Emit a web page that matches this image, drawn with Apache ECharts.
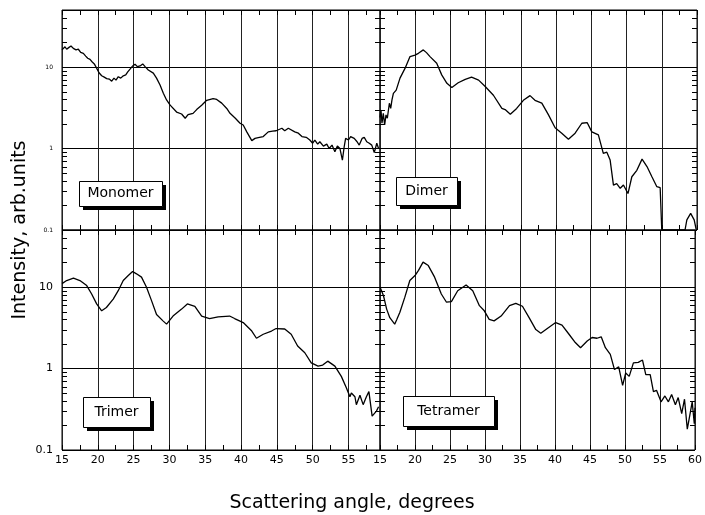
<!DOCTYPE html>
<html>
<head>
<meta charset="utf-8">
<script src="https://cdn.jsdelivr.net/npm/echarts@6/dist/echarts.min.js"></script>
<style>
html,body{margin:0;padding:0;background:#fff;}
#chart{width:705px;height:515px;}
</style>
</head>
<body>
<div id="chart"></div>
<script>
// ---- data (angle in degrees, intensity in arb. units) ----
const panelNames = ['Monomer', 'Dimer', 'Trimer', 'Tetramer'];
const xTickLabels = [15, 20, 25, 30, 35, 40, 45, 50, 55, 60];
const yTickLabels = [0.1, 1, 10];
const yMinorTicks = [0.2,0.3,0.4,0.5,0.6,0.7,0.8,0.9,2,3,4,5,6,7,8,9,20,30,40,50];

const monomer = [
[15.0,16.2],[15.42,17.7],[15.65,16.5],[15.98,17.4],[16.26,18.1],[16.58,16.9],[16.96,16.2],[17.28,16.5],
[17.61,15.1],[17.98,14.7],[18.31,13.6],[18.59,12.8],[18.91,12.4],[19.19,11.6],[19.51,10.9],[19.85,9.6],
[20.17,8.5],[20.54,7.8],[20.9,7.5],[21.24,7.2],[21.6,7.1],[21.94,6.7],[22.26,7.3],[22.54,6.9],[22.86,7.6],
[23.2,7.3],[23.56,7.8],[23.9,8.0],[24.18,8.7],[24.5,9.4],[24.87,10.3],[25.2,10.8],[25.52,10.1],[25.9,10.3],
[26.27,10.9],[26.6,10.1],[27.05,9.2],[27.75,8.4],[28.2,7.3],[28.69,6.0],[29.15,4.75],[29.6,3.94],[30.1,3.4],
[31.0,2.8],[31.7,2.65],[32.2,2.35],[32.6,2.6],[33.3,2.7],[33.8,3.0],[34.5,3.4],[35.2,3.9],[36.1,4.1],[36.6,4.0],
[37.3,3.6],[38.0,3.1],[38.46,2.7],[39.2,2.35],[39.86,2.04],[40.3,1.94],[40.8,1.6],[41.5,1.25],[41.95,1.33],
[42.4,1.36],[43.1,1.4],[43.8,1.6],[44.4,1.63],[44.9,1.65],[45.7,1.77],[46.1,1.65],[46.6,1.77],[47.5,1.6],
[48.0,1.54],[48.5,1.4],[49.1,1.37],[49.6,1.27],[50.0,1.16],[50.3,1.27],[50.7,1.13],[51.0,1.21],[51.5,1.07],
[51.97,1.13],[52.3,1.0],[52.7,1.1],[53.1,0.91],[53.45,1.07],[53.8,1.0],[54.15,0.72],[54.4,1.05],[54.6,1.33],
[55.0,1.27],[55.3,1.4],[55.8,1.33],[56.2,1.21],[56.5,1.1],[56.9,1.33],[57.2,1.37],[57.55,1.21],[57.9,1.16],
[58.25,1.1],[58.6,0.89],[58.95,1.16],[59.2,1.0]
];

const dimer = [
[15.0,2.4],[15.14,2.97],[15.28,2.04],[15.47,2.7],[15.66,1.94],[15.85,2.58],[16.04,2.35],[16.33,3.59],[16.52,3.11],
[16.7,3.94],[16.9,4.75],[17.3,5.2],[17.84,7.3],[18.55,9.6],[19.26,13.4],[19.97,14.0],[20.45,14.7],[21.15,16.2],
[21.6,15.0],[22.1,13.4],[23.05,11.1],[23.76,8.0],[24.5,6.3],[25.2,5.6],[26.1,6.4],[27.1,7.06],[28.0,7.5],
[29.0,6.9],[29.9,5.8],[31.1,4.5],[32.3,3.1],[32.76,3.0],[33.5,2.63],[34.4,3.1],[35.35,3.9],[36.3,4.45],
[37.0,3.9],[37.97,3.6],[38.9,2.6],[39.86,1.8],[40.8,1.54],[41.75,1.3],[42.7,1.54],[43.65,2.04],[44.4,2.08],
[45.07,1.6],[46.0,1.47],[46.7,0.87],[47.2,0.9],[47.67,0.72],[48.14,0.356],[48.6,0.37],[49.1,0.325],
[49.56,0.356],[50.2,0.28],[50.75,0.45],[51.46,0.54],[52.2,0.74],[52.9,0.6],[53.6,0.45],[54.3,0.34],
[54.77,0.33],[55.0,0.1],[58.3,0.1],[58.56,0.133],[59.1,0.16],[59.6,0.133],[59.9,0.1],[60.0,0.1]
];

const trimer = [
[15.0,11.0],[15.1,11.4],[15.65,12.0],[16.6,12.8],[17.5,12.0],[18.45,10.4],[19.14,8.2],[19.84,6.2],
[20.54,5.1],[21.2,5.6],[22.15,7.1],[22.85,9.0],[23.55,12.0],[24.25,13.8],[24.86,15.5],[25.4,14.5],
[26.1,13.2],[26.8,9.9],[27.5,6.8],[28.2,4.6],[29.1,3.84],[29.6,3.5],[30.5,4.4],[31.7,5.35],[32.5,6.2],
[33.55,5.8],[34.5,4.4],[35.6,4.1],[36.8,4.3],[38.4,4.4],[39.1,4.1],[40.3,3.66],[41.5,2.88],[42.15,2.35],
[43.1,2.63],[44.25,2.88],[44.9,3.09],[46.1,3.05],[47.0,2.63],[47.9,1.89],[48.9,1.56],[49.8,1.17],
[50.75,1.07],[51.4,1.1],[52.1,1.23],[53.1,1.07],[54.0,0.8],[54.7,0.58],[55.2,0.45],[55.4,0.5],[55.9,0.45],
[56.1,0.36],[56.6,0.47],[57.05,0.36],[57.5,0.45],[57.85,0.52],[58.3,0.26],[58.9,0.3],[59.2,0.34]
];

const tetramer = [
[15.0,10.0],[15.14,10.4],[15.5,7.8],[15.95,5.35],[16.4,4.2],[17.1,3.5],[17.4,4.0],[17.84,4.9],[18.55,7.5],
[19.26,12.0],[20.0,13.8],[20.5,16.0],[21.15,20.2],[21.9,18.3],[22.8,13.2],[23.76,8.2],[24.5,6.5],[25.2,6.6],
[26.1,9.0],[27.3,10.6],[28.25,9.0],[29.2,5.9],[29.9,5.1],[30.6,4.0],[31.3,3.84],[32.3,4.4],[33.5,5.9],
[34.4,6.3],[35.35,5.8],[36.3,4.2],[37.26,3.0],[37.97,2.7],[38.9,3.1],[40.1,3.66],[41.0,3.4],[42.0,2.63],
[42.9,2.08],[43.65,1.8],[44.6,2.17],[45.3,2.4],[46.0,2.35],[46.6,2.45],[47.2,1.8],[47.9,1.49],[48.5,0.97],
[49.1,1.05],[49.66,0.62],[50.1,0.88],[50.6,0.8],[51.2,1.17],[51.9,1.19],[52.5,1.27],[52.97,0.84],[53.6,0.84],
[54.06,0.52],[54.5,0.54],[55.15,0.39],[55.7,0.46],[56.2,0.39],[56.66,0.48],[57.2,0.36],[57.6,0.44],
[58.1,0.28],[58.5,0.42],[58.9,0.18],[59.3,0.28],[59.6,0.39],[59.9,0.21],[60.0,0.33]
];

const seriesData = [monomer, dimer, trimer, tetramer];

// ---- layout ----
const X_MIN = 15;
const panels = [
  {left: 62,  top: 10,  width: 318, height: 220, xMax: 59.4, leftCol: true,  bottomRow: false, box: {x: 79,  y: 181, w: 83, h: 25}},
  {left: 380, top: 10,  width: 317, height: 220, xMax: 60,   leftCol: false, bottomRow: false, box: {x: 396, y: 177, w: 61, h: 28}},
  {left: 62,  top: 230, width: 318, height: 220, xMax: 59.4, leftCol: true,  bottomRow: true,  box: {x: 83,  y: 397, w: 67, h: 30}},
  {left: 380, top: 230, width: 317, height: 220, xMax: 60,   leftCol: false, bottomRow: true,  box: {x: 403, y: 396, w: 91, h: 30}}
];

const FONT = '"DejaVu Sans", sans-serif';
const grid = [], xAxis = [], yAxis = [], series = [], graphic = [];

panels.forEach((p, i) => {
  grid.push({left: p.left, top: p.top, width: p.width, height: p.height, show: true,
             borderColor: '#000', borderWidth: 1, backgroundColor: 'transparent'});
  // main x axis (grid lines + labels)
  xAxis.push({type: 'value', gridIndex: i, min: X_MIN, max: p.xMax, interval: 5, position: 'bottom',
    axisLine: {show: false}, axisTick: {show: false},
    splitLine: {show: true, lineStyle: {color: '#222', width: 1}},
    axisLabel: {show: p.bottomRow, color: '#000', fontSize: 11, fontFamily: FONT, margin: 5,
                showMaxLabel: p.xMax === 60, showMinLabel: true,
                formatter: v => (xTickLabels.indexOf(v) >= 0 ? String(v) : '')}
  });
  const mainX = xAxis.length - 1;
  // tick axes, bottom and top
  ['bottom', 'top'].forEach(pos => {
    xAxis.push({type: 'value', gridIndex: i, min: X_MIN, max: p.xMax, interval: 2.5, position: pos,
      axisLine: {show: false}, splitLine: {show: false}, axisLabel: {show: false},
      axisTick: {show: true, inside: true, length: 5, lineStyle: {color: '#000', width: 1}}});
  });
  yAxis.push({type: 'log', logBase: 10, gridIndex: i, min: 0.1, max: 50,
    axisLine: {show: false},
    axisTick: {show: true, inside: true, length: 7, lineStyle: {color: '#000'}},
    splitLine: {show: true, lineStyle: {color: '#000', width: 1}},
    axisLabel: {show: p.leftCol, showMaxLabel: false, color: '#000',
                fontSize: p.bottomRow ? 11 : 6, fontFamily: FONT, margin: 9,
                formatter: v => {
                  const m = yTickLabels.find(t => Math.abs(t - v) < 1e-9);
                  return m === undefined ? '' : String(m);
                }}
  });
  series.push({type: 'line', xAxisIndex: mainX, yAxisIndex: i, data: seriesData[i],
    showSymbol: false, symbol: 'none', clip: true,
    lineStyle: {color: '#000', width: 1.3}});
  // minor log ticks on left and right edges
  series.push({type: 'custom', xAxisIndex: mainX, yAxisIndex: i, silent: true,
    data: yMinorTicks.map(v => [X_MIN, v]),
    renderItem: (params, api) => {
      const pt = api.coord([api.value(0), api.value(1)]);
      const cs = params.coordSys;
      const y = Math.round(pt[1]) + 0.5;
      const L = 5;
      return {type: 'group', children: [
        {type: 'line', shape: {x1: cs.x, y1: y, x2: cs.x + L, y2: y}, style: {stroke: '#000', lineWidth: 1}},
        {type: 'line', shape: {x1: cs.x + cs.width - L, y1: y, x2: cs.x + cs.width, y2: y}, style: {stroke: '#000', lineWidth: 1}}
      ]};
    }});
  // label box with drop shadow
  const b = p.box;
  graphic.push({type: 'rect', left: b.x + 4, top: b.y + 4, shape: {width: b.w, height: b.h},
                style: {fill: '#000'}, z: 100});
  graphic.push({type: 'rect', left: b.x, top: b.y, shape: {width: b.w, height: b.h},
                style: {fill: '#fff', stroke: '#000', lineWidth: 1}, z: 101});
  graphic.push({type: 'text', x: b.x + b.w / 2, y: b.y + b.h / 2, z: 102,
                style: {text: panelNames[i], font: '14px ' + FONT, fill: '#000',
                        textAlign: 'center', textVerticalAlign: 'middle'}});
});

graphic.push({type: 'text', x: 20, y: 230, rotation: Math.PI / 2, z: 100,
  style: {text: 'Intensity, arb.units', font: '19px ' + FONT, fill: '#000',
          textAlign: 'center', textVerticalAlign: 'middle'}});
graphic.push({type: 'text', x: 352, y: 503, z: 100,
  style: {text: 'Scattering angle, degrees', font: '19px ' + FONT, fill: '#000',
          textAlign: 'center', textVerticalAlign: 'middle'}});

const chart = echarts.init(document.getElementById('chart'), null, {renderer: 'canvas'});
chart.setOption({animation: false, backgroundColor: '#fff', grid, xAxis, yAxis, series, graphic});
</script>
</body>
</html>
